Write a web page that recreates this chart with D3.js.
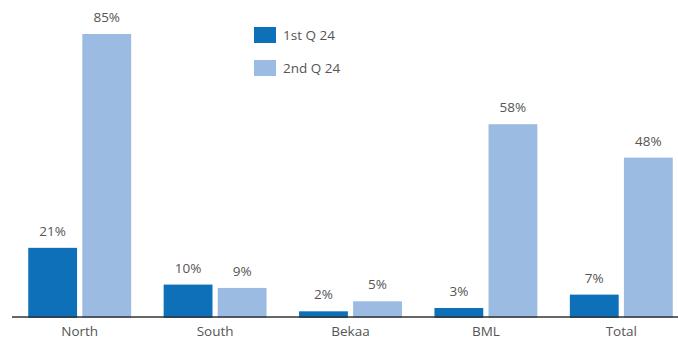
<!DOCTYPE html>
<html>
<head>
<meta charset="utf-8">
<script src="https://cdn.jsdelivr.net/npm/d3@7"></script>
<style>
  html, body { margin: 0; padding: 0; background: #fff; }
  svg { display: block; }
  text { font-family: "Open Sans", sans-serif; fill: #555; }
</style>
</head>
<body>
<svg id="chart" width="678" height="339"></svg>
<script>
const categories = ["North", "South", "Bekaa", "BML", "Total"];
const seriesNames = ["1st Q 24", "2nd Q 24"];
const q1Values = [21, 10, 2, 3, 7];
const q2Values = [85, 9, 5, 58, 48];
const seriesColors = ["#0d70b8", "#9bbbe2"];

const rows = categories.map((c, i) => ({ category: c, values: [q1Values[i], q2Values[i]] }));

const svg = d3.select("#chart");
const baseY = 318;

const x0 = d3.scaleBand().domain(categories).range([12, 689]).paddingInner(0.24).paddingOuter(0.12);
const x1 = d3.scaleBand().domain(d3.range(seriesNames.length)).range([0, x0.bandwidth()]).paddingInner(0.097);
const y = d3.scaleLinear().domain([0, 85]).range([baseY, 34]);

const groups = svg.append("g").selectAll("g")
  .data(rows).join("g")
  .attr("transform", d => `translate(${x0(d.category)},0)`);

groups.selectAll("rect")
  .data(d => d.values.map((v, i) => ({ v, i })))
  .join("rect")
  .attr("x", d => x1(d.i))
  .attr("width", x1.bandwidth())
  .attr("y", d => y(d.v))
  .attr("height", d => y(0) - y(d.v))
  .attr("fill", d => seriesColors[d.i]);

groups.selectAll("text.val")
  .data(d => d.values.map((v, i) => ({ v, i })))
  .join("text")
  .attr("class", "val")
  .attr("x", d => x1(d.i) + x1.bandwidth() / 2)
  .attr("y", d => y(d.v) - 12)
  .attr("text-anchor", "middle")
  .style("font-size", "13.5px")
  .text(d => d.v + "%");

// baseline axis
const xAxis = d3.axisBottom(x0).tickSize(0).tickPadding(10);
const axisG = svg.append("g").attr("transform", `translate(0,${baseY - 1})`).call(xAxis);
axisG.select(".domain").attr("stroke", "#333").attr("stroke-width", 1.6).attr("d", "M12,0H678");
axisG.selectAll(".tick text")
  .style("font-size", "13.5px")
  .style("font-family", "'Open Sans', sans-serif")
  .attr("fill", "#555")
  .attr("dy", "0.71em")
  .attr("y", 9);

// legend
const legend = svg.append("g").attr("transform", "translate(254,27)");
const items = legend.selectAll("g").data(seriesNames).join("g")
  .attr("transform", (d, i) => `translate(0,${i * 33})`);
items.append("rect").attr("width", 22).attr("height", 16).attr("fill", (d, i) => seriesColors[i]);
items.append("text").attr("x", 29).attr("y", 12.5).style("font-size", "13.5px").text(d => d);
</script>
</body>
</html>
